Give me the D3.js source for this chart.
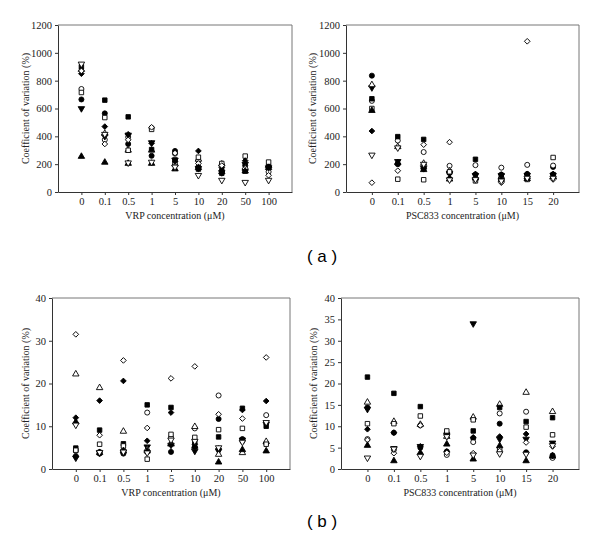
<!DOCTYPE html>
<html lang="en">
<head>
  <meta charset="UTF-8">
  <title>Coefficient of variation</title>
  <script src="https://d3js.org/d3.v7.min.js"></script>
  <style>
    body {
      margin: 0;
      padding: 0;
      background-color: #fff;
    }
    .axis-title {
      font-family: "Liberation Serif", "Times New Roman", serif;
      font-size: 10px;
      fill: #222;
    }
    .panel-label {
      font-family: "Liberation Sans", Arial, sans-serif;
      font-size: 17px;
      fill: #000;
    }
  </style>
</head>
<body>
  <svg id="chart" width="600" height="551"></svg>

  <script>
    // Categories (x axis)
    const vrpCats = ["0", "0.1", "0.5", "1", "5", "10", "20", "50", "100"];
    const pscCats = ["0", "0.1", "0.5", "1", "5", "10", "15", "20"];

    // Series order: filled circle, open circle, filled down-triangle, open up-triangle,
    // filled square, open square, filled diamond, open diamond, filled up-triangle, open down-triangle
    const seriesNames = ["S1", "S2", "S3", "S4", "S5", "S6", "S7", "S8", "S9", "S10"];

    // (a) VRP, coefficient of variation (%)
    const vrpA = [
      [665, 565, 345, 260, 295, 180, 155, 190, 180],
      [740, 375, 395, 460, 275, 225, 195, 160, 145],
      [600, 400, 410, 355, 230, 170, 140, 200, 175],
      [880, 420, 300, 300, 200, 235, 200, 170, 190],
      [900, 660, 540, 305, 230, 165, 135, 150, 185],
      [715, 535, 300, 450, 210, 250, 205, 258, 215],
      [850, 470, 415, 350, 220, 295, 175, 225, 180],
      [870, 345, 375, 465, 280, 205, 190, 170, 120],
      [255, 213, 205, 205, 165, 175, 145, 150, 175],
      [920, 415, 210, 215, 180, 120, 85, 70, 85]
    ];

    // (a) PSC833
    const pscA = [
      [836, 200, 165, 140, 125, 125, 130, 180],
      [655, 370, 287, 188, 193, 175, 195, 190],
      [750, 220, 170, 135, 120, 120, 120, 120],
      [770, 325, 205, 150, 110, 110, 110, 110],
      [670, 398, 378, 140, 235, 100, 115, 125],
      [600, 92, 88, 145, 80, 90, 90, 248],
      [438, 205, 170, 100, 130, 125, 130, 130],
      [67, 153, 340, 358, 95, 67, 1083, 90],
      [585, 210, 160, 92, 100, 90, 95, 110],
      [266, 318, 200, 88, 90, 80, 100, 100]
    ];

    // (b) VRP
    const vrpB = [
      [3.0, 3.6, 3.6, 4.0, 4.0, 5.2, 11.7, 7.0, 6.0],
      [4.2, 4.0, 4.4, 13.2, 7.4, 9.5, 17.2, 6.5, 12.6],
      [2.6, 3.8, 4.0, 5.2, 5.6, 4.2, 4.2, 6.8, 10.5],
      [22.2, 19.0, 8.8, 4.6, 6.0, 9.9, 3.4, 3.8, 6.4],
      [4.9, 9.1, 5.9, 15.0, 14.4, 6.3, 7.5, 14.2, 10.0],
      [4.4, 5.8, 5.4, 2.3, 8.1, 7.4, 9.2, 9.5, 5.8],
      [12.0, 16.0, 20.6, 6.6, 13.2, 5.8, 4.8, 13.8, 15.9],
      [31.5, 7.9, 25.4, 9.6, 21.2, 24.0, 12.8, 11.8, 26.1],
      [11.0, 3.8, 4.2, 4.2, 5.8, 5.3, 1.6, 4.5, 4.2],
      [10.3, 3.9, 4.0, 3.8, 6.8, 6.5, 5.0, 6.3, 10.9]
    ];

    // (b) PSC833
    const pscB = [
      [14.4, 8.5, 5.0, 4.1, 7.2, 10.6, 3.9, 3.2],
      [7.0, 4.5, 10.2, 3.3, 6.3, 13.0, 13.4, 2.6],
      [14.0, 4.8, 5.3, 8.0, 34.0, 7.0, 7.0, 6.1],
      [15.6, 11.1, 10.4, 7.6, 12.1, 15.1, 17.9, 13.4],
      [21.5, 17.7, 14.6, 8.2, 8.9, 14.4, 11.1, 12.0],
      [10.6, 10.6, 12.4, 8.9, 11.5, 4.7, 9.8, 8.0],
      [9.3, 8.5, 5.3, 4.1, 7.4, 7.6, 8.2, 3.0],
      [6.8, 3.7, 10.2, 3.8, 3.7, 4.2, 6.2, 5.3],
      [5.5, 1.9, 3.8, 5.8, 2.3, 5.4, 1.9, 3.0],
      [2.6, 4.7, 3.0, 7.6, 3.3, 3.6, 3.5, 5.5]
    ];

    const svg = d3.select("#chart");
    const serif = '"Liberation Serif", "Times New Roman", serif';

    // symbol per series: [d3 symbol type, size, rotation, filled]
    const markers = [
      [d3.symbolCircle, 20, 0, true],
      [d3.symbolCircle, 20, 0, false],
      [d3.symbolTriangle, 18, 180, true],
      [d3.symbolTriangle, 18, 0, false],
      [d3.symbolSquare, 20, 0, true],
      [d3.symbolSquare, 20, 0, false],
      [d3.symbolSquare, 16, 45, true],
      [d3.symbolSquare, 16, 45, false],
      [d3.symbolTriangle, 18, 0, true],
      [d3.symbolTriangle, 18, 180, false]
    ];

    function drawPanel(p) {
      const x = d3.scalePoint().domain(p.cats).range([p.left, p.right]).padding(1);
      const y = d3.scaleLinear().domain([0, p.yMax]).range([p.bottom, p.top]);
      const g = svg.append("g");

      // top/right frame
      g.append("path")
        .attr("d", `M${p.left},${p.top}H${p.right}V${p.bottom}`)
        .attr("fill", "none")
        .attr("stroke", "#777")
        .attr("stroke-width", 1);

      const yAxis = g.append("g")
        .attr("transform", `translate(${p.left},0)`)
        .call(d3.axisLeft(y)
          .tickValues(d3.range(0, p.yMax + 1, p.yStep))
          .tickFormat(d3.format("d"))
          .tickSize(3).tickSizeOuter(0));

      const xAxis = g.append("g")
        .attr("transform", `translate(0,${p.bottom})`)
        .call(d3.axisBottom(x).tickSize(3).tickSizeOuter(0));

      [yAxis, xAxis].forEach(a => {
        a.attr("font-family", serif).attr("font-size", 10.5);
        a.select(".domain").attr("stroke", "#333");
        a.selectAll(".tick line").attr("stroke", "#333");
        a.selectAll(".tick text").attr("fill", "#222");
      });

      // points
      p.rows.forEach((row, si) => {
        const [type, size, rot, filled] = markers[si];
        const sym = d3.symbol().type(type).size(size);
        g.append("g")
          .attr("class", "series " + seriesNames[si])
          .selectAll("path")
          .data(row.map((v, i) => ({ cat: p.cats[i], v })))
          .join("path")
          .attr("d", sym)
          .attr("transform", d => `translate(${x(d.cat)},${y(d.v)}) rotate(${rot})`)
          .attr("fill", filled ? "#000" : "#fff")
          .attr("stroke", "#000")
          .attr("stroke-width", 0.9);
      });

      // axis titles
      g.append("text")
        .attr("class", "axis-title")
        .attr("x", (p.left + p.right) / 2)
        .attr("y", p.bottom + 27)
        .attr("text-anchor", "middle")
        .text(p.xTitle);

      g.append("text")
        .attr("class", "axis-title")
        .attr("transform", `translate(${p.yTitleX},${(p.top + p.bottom) / 2}) rotate(-90)`)
        .attr("text-anchor", "middle")
        .attr("dy", "0.35em")
        .text("Coefficient of variation (%)");
    }

    drawPanel({ cats: vrpCats, rows: vrpA, yMax: 1200, yStep: 200, left: 58, right: 292, top: 25, bottom: 192,
      xTitle: "VRP concentration (μM)", yTitleX: 25 });
    drawPanel({ cats: pscCats, rows: pscA, yMax: 1200, yStep: 200, left: 346, right: 579, top: 25, bottom: 192,
      xTitle: "PSC833 concentration (μM)", yTitleX: 312 });
    drawPanel({ cats: vrpCats, rows: vrpB, yMax: 40, yStep: 10, left: 52, right: 290, top: 298, bottom: 469,
      xTitle: "VRP concentration (μM)", yTitleX: 25 });
    drawPanel({ cats: pscCats, rows: pscB, yMax: 40, yStep: 5, left: 341, right: 579, top: 298, bottom: 469,
      xTitle: "PSC833 concentration (μM)", yTitleX: 313 });

    // panel labels
    svg.append("text").attr("class", "panel-label")
      .attr("x", 322).attr("y", 262).attr("text-anchor", "middle").text("( a )");
    svg.append("text").attr("class", "panel-label")
      .attr("x", 322).attr("y", 527).attr("text-anchor", "middle").text("( b )");
  </script>
</body>
</html>
